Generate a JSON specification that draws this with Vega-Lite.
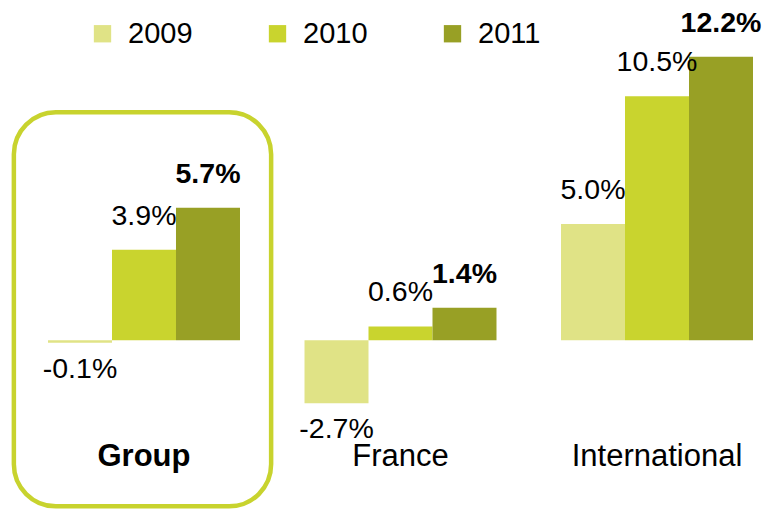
{
  "$schema": "https://vega.github.io/schema/vega-lite/v6.json",
  "width": 780,
  "height": 509,
  "autosize": {"type": "fit", "contains": "padding"},
  "padding": 0,
  "background": "white",
  "config": {
    "view": {"stroke": null},
    "font": "Liberation Sans",
    "text": {"font": "Liberation Sans"}
  },
  "data": {
    "values": [
      {"category": "Group", "year": "2009", "value": -0.1, "label": "-0.1%"},
      {"category": "Group", "year": "2010", "value": 3.9, "label": "3.9%"},
      {"category": "Group", "year": "2011", "value": 5.7, "label": "5.7%"},
      {"category": "France", "year": "2009", "value": -2.7, "label": "-2.7%"},
      {"category": "France", "year": "2010", "value": 0.6, "label": "0.6%"},
      {"category": "France", "year": "2011", "value": 1.4, "label": "1.4%"},
      {"category": "International", "year": "2009", "value": 5.0, "label": "5.0%"},
      {"category": "International", "year": "2010", "value": 10.5, "label": "10.5%"},
      {"category": "International", "year": "2011", "value": 12.2, "label": "12.2%"}
    ]
  },
  "encoding": {
    "x": {
      "field": "category",
      "type": "nominal",
      "sort": ["Group", "France", "International"],
      "scale": {"paddingInner": 0.2515, "paddingOuter": 0.1462, "align": 0.64},
      "axis": null
    }
  },
  "layer": [
    {
      "transform": [{"filter": "datum.category === 'Group' && datum.year === '2009'"}],
      "mark": {"type": "bar", "filled": false, "fill": null, "stroke": "#c8d32e", "strokeWidth": 4.5, "cornerRadius": 42, "width": {"band": 1.34}, "xOffset": -1.5},
      "encoding": {
        "y": {"datum": 9.81, "type": "quantitative", "scale": {"domain": [-7.21, 14.64], "nice": false, "zero": false}, "axis": null},
        "y2": {"datum": -7.14}
      }
    },
    {
      "mark": {"type": "bar"},
      "encoding": {
        "xOffset": {"field": "year", "type": "nominal", "scale": {"paddingInner": 0, "paddingOuter": 0}},
        "y": {"field": "value", "type": "quantitative", "scale": {"domain": [-7.21, 14.64], "nice": false, "zero": false}, "axis": null},
        "color": {
          "field": "year",
          "type": "nominal",
          "scale": {"domain": ["2009", "2010", "2011"], "range": ["#e0e386", "#c9d42e", "#98a025"]},
          "legend": {
            "title": null,
            "orient": "none",
            "direction": "horizontal",
            "legendX": 88,
            "legendY": 19,
            "padding": 0,
            "symbolType": "square",
            "symbolSize": 300,
            "symbolStrokeWidth": 0,
            "symbolOpacity": 1,
            "labelFont": "Liberation Sans",
            "labelFontSize": 29,
            "labelColor": "#000000",
            "labelOffset": 11,
            "columnPadding": 70,
            "labelBaseline": "middle"
          }
        }
      }
    },
    {
      "mark": {"type": "rule", "color": "#000000", "strokeWidth": 3.5},
      "encoding": {
        "y": {"datum": 0, "type": "quantitative", "scale": {"domain": [-7.21, 14.64], "nice": false, "zero": false}}
      }
    },
    {
      "transform": [{"filter": "datum.value >= 0 && datum.year !== '2011'"}],
      "mark": {"type": "text", "baseline": "bottom", "dy": -19, "fontSize": 28.5, "color": "#000000"},
      "encoding": {
        "xOffset": {"field": "year", "type": "nominal", "scale": {"paddingInner": 0, "paddingOuter": 0}},
        "y": {"field": "value", "type": "quantitative", "scale": {"domain": [-7.21, 14.64], "nice": false, "zero": false}},
        "text": {"field": "label"}
      }
    },
    {
      "transform": [{"filter": "datum.value >= 0 && datum.year === '2011'"}],
      "mark": {"type": "text", "baseline": "bottom", "dy": -19, "fontSize": 28.5, "fontWeight": "bold", "color": "#000000"},
      "encoding": {
        "xOffset": {"field": "year", "type": "nominal", "scale": {"paddingInner": 0, "paddingOuter": 0}},
        "y": {"field": "value", "type": "quantitative", "scale": {"domain": [-7.21, 14.64], "nice": false, "zero": false}},
        "text": {"field": "label"}
      }
    },
    {
      "transform": [{"filter": "datum.value < 0"}],
      "mark": {"type": "text", "baseline": "top", "dy": 12, "fontSize": 28.5, "color": "#000000"},
      "encoding": {
        "xOffset": {"field": "year", "type": "nominal", "scale": {"paddingInner": 0, "paddingOuter": 0}},
        "y": {"field": "value", "type": "quantitative", "scale": {"domain": [-7.21, 14.64], "nice": false, "zero": false}},
        "text": {"field": "label"}
      }
    },
    {
      "transform": [{"filter": "datum.year === '2010' && datum.category !== 'Group'"}],
      "mark": {"type": "text", "baseline": "middle", "fontSize": 31, "color": "#000000"},
      "encoding": {
        "y": {"datum": -5.02, "type": "quantitative", "scale": {"domain": [-7.21, 14.64], "nice": false, "zero": false}},
        "text": {"field": "category"}
      }
    },
    {
      "transform": [{"filter": "datum.year === '2010' && datum.category === 'Group'"}],
      "mark": {"type": "text", "baseline": "middle", "fontSize": 31, "fontWeight": "bold", "color": "#000000"},
      "encoding": {
        "y": {"datum": -5.02, "type": "quantitative", "scale": {"domain": [-7.21, 14.64], "nice": false, "zero": false}},
        "text": {"field": "category"}
      }
    }
  ]
}
